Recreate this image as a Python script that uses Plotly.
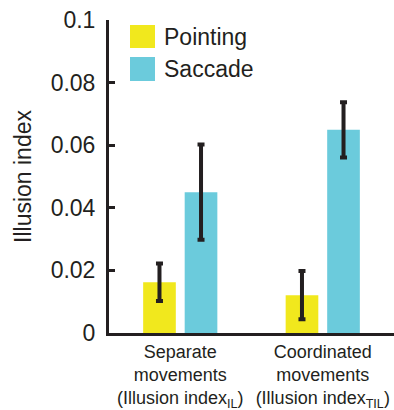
import plotly.graph_objects as go

categories = ["Separate<br>movements<br>(Illusion index<sub>IL</sub>)",
              "Coordinated<br>movements<br>(Illusion index<sub>TIL</sub>)"]
pointing = [0.0162, 0.0121]
pointing_err = [0.0060, 0.0077]
saccade = [0.0450, 0.0649]
saccade_err = [0.0152, 0.0088]
series_names = ["Pointing", "Saccade"]
y_ticks = [0, 0.02, 0.04, 0.06, 0.08, 0.1]
y_ticklabels = ["0", "0.02", "0.04", "0.06", "0.08", "0.1"]

YELLOW = "#F1E81D"
CYAN = "#6BCBDC"
DARK = "#231F20"
FONT = "Liberation Sans, Arial, Helvetica, sans-serif"

fig = go.Figure()
for name, vals, errs, col in [(series_names[0], pointing, pointing_err, YELLOW),
                              (series_names[1], saccade, saccade_err, CYAN)]:
    fig.add_trace(go.Bar(
        x=categories, y=vals, name=name, marker_color=col, marker_line_width=0,
        error_y=dict(type="data", array=errs, visible=True, color=DARK,
                     thickness=4, width=3.5),
        showlegend=False,
    ))

# manual legend (large swatches)
sw = [(0.0737, 0.1614, 0.9105, 0.984, YELLOW, 0.9457, series_names[0]),
      (0.0737, 0.1614, 0.8051, 0.8818, CYAN, 0.8435, series_names[1])]
for x0, x1, y0, y1, col, ty, label in sw:
    fig.add_shape(type="rect", xref="paper", yref="paper", x0=x0, x1=x1, y0=y0, y1=y1,
                  fillcolor=col, line_width=0)
    fig.add_annotation(xref="paper", yref="paper", x=0.186, y=ty, text=label,
                       showarrow=False, xanchor="left", yanchor="middle",
                       font=dict(size=23, color=DARK, family=FONT))

fig.update_layout(
    width=394, height=410,
    margin=dict(l=109, r=0, t=20, b=77),
    paper_bgcolor="white", plot_bgcolor="white",
    barmode="group", bargap=0.417, bargroupgap=0.214,
    font=dict(family=FONT, color=DARK),
)
fig.update_xaxes(
    range=[-0.5, 1.5], showline=True, linewidth=3, linecolor=DARK,
    ticks="", showgrid=False, zeroline=False, automargin=False,
    tickfont=dict(size=18, color=DARK), ticklabelstandoff=0,
)
fig.update_yaxes(
    range=[0, 0.1], tickvals=y_ticks, ticktext=y_ticklabels,
    showline=True, linewidth=3, linecolor=DARK,
    ticks="inside", ticklen=6, tickwidth=3, tickcolor=DARK,
    showgrid=False, zeroline=False, automargin=False,
    tickfont=dict(size=23, color=DARK), ticklabelstandoff=6,
    title=dict(text="Illusion index", font=dict(size=23, color=DARK), standoff=13),
)

fig.write_html("out.html", config={"displayModeBar": False},
               post_script="document.body.style.margin='0';document.body.style.overflow='hidden';")
